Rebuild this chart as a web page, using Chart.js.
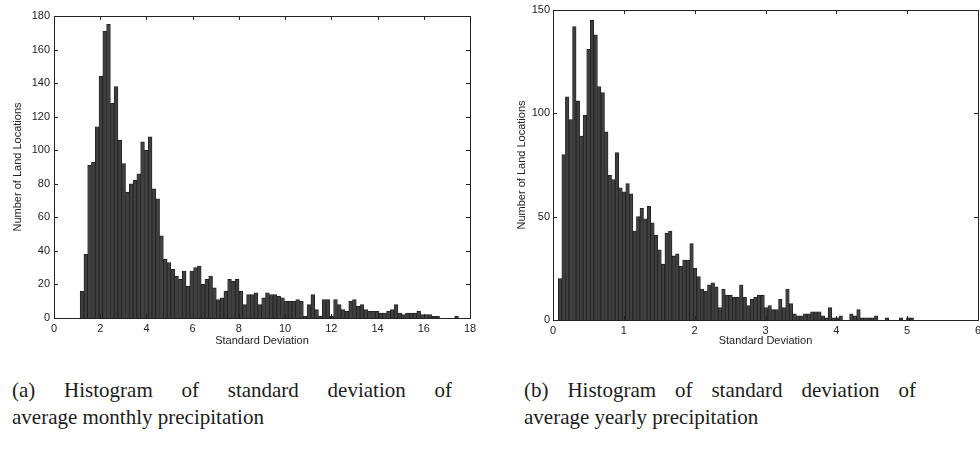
<!DOCTYPE html>
<html>
<head>
<meta charset="utf-8">
<script src="https://cdn.jsdelivr.net/npm/chart.js@4.4.1/dist/chart.umd.min.js"></script>
<style>
  html, body { margin:0; padding:0; background:#fff; width:980px; height:456px; overflow:hidden; position:relative; }
  canvas { position:absolute; top:0; }
  #c1 { left:0; }
  #c2 { left:490px; }
  .cap { position:absolute; font-family:"Liberation Serif","Times New Roman",serif; font-size:21px; line-height:21px; color:#1c1c1c; white-space:nowrap; }
</style>
</head>
<body>
<canvas id="c1" width="490" height="350"></canvas>
<canvas id="c2" width="500" height="350"></canvas>
<div class="cap" id="a1" data-w="440" style="left:12px;top:380px">(a) Histogram of standard deviation of</div>
<div class="cap" id="a2" style="left:12px;top:407px">average monthly precipitation</div>
<div class="cap" id="b1" data-w="392" style="left:524px;top:380px">(b) Histogram of standard deviation of</div>
<div class="cap" id="b2" style="left:524px;top:407px">average yearly precipitation</div>
<script>
// ---------- DATA ----------
// (a) standard deviation of average monthly precipitation: bin centres and counts
const monthlyBinCenters = [
  1.212, 1.376, 1.539, 1.703, 1.867, 2.030, 2.194, 2.358, 2.522, 2.685,
  2.849, 3.013, 3.176, 3.340, 3.504, 3.667, 3.831, 3.995, 4.159, 4.322,
  4.486, 4.650, 4.813, 4.977, 5.141, 5.304, 5.468, 5.632, 5.796, 5.959,
  6.123, 6.287, 6.450, 6.614, 6.778, 6.941, 7.105, 7.269, 7.433, 7.596,
  7.760, 7.924, 8.087, 8.251, 8.415, 8.578, 8.742, 8.906, 9.070, 9.233,
  9.397, 9.561, 9.724, 9.888, 10.052, 10.215, 10.379, 10.543, 10.707, 10.870,
  11.034, 11.198, 11.361, 11.525, 11.689, 11.852, 12.016, 12.180, 12.344, 12.507,
  12.671, 12.835, 12.998, 13.162, 13.326, 13.489, 13.653, 13.817, 13.981, 14.144,
  14.308, 14.472, 14.635, 14.799, 14.963, 15.126, 15.290, 15.454, 15.618, 15.781,
  15.945, 16.109, 16.272, 16.436, 16.600, 16.763, 16.927, 17.091, 17.255, 17.418
];
const monthlyCounts = [
  16, 38, 91, 93, 114, 144, 171, 175, 128, 138,
  106, 92, 75, 80, 82, 86, 105, 100, 108, 77,
  71, 49, 35, 33, 29, 25, 23, 28, 19, 28,
  30, 31, 20, 23, 25, 18, 11, 12, 16, 23,
  22, 23, 16, 8, 14, 14, 15, 8, 12, 15,
  14, 14, 13, 12, 10, 10, 10, 11, 10, 1,
  8, 14, 5, 1, 11, 11, 1, 11, 8, 5,
  4, 10, 11, 7, 8, 5, 4, 4, 4, 3,
  3, 4, 5, 8, 3, 2, 3, 3, 3, 4,
  2, 2, 2, 1, 1, 0, 0, 0, 0, 1
];
// (b) standard deviation of average yearly precipitation: bin centres and counts
const yearlyBinCenters = [
  0.100, 0.150, 0.200, 0.250, 0.301, 0.351, 0.401, 0.451, 0.501, 0.551,
  0.602, 0.652, 0.702, 0.752, 0.802, 0.852, 0.902, 0.953, 1.003, 1.053,
  1.103, 1.153, 1.203, 1.253, 1.304, 1.354, 1.404, 1.454, 1.504, 1.554,
  1.605, 1.655, 1.705, 1.755, 1.805, 1.855, 1.905, 1.956, 2.006, 2.056,
  2.106, 2.156, 2.206, 2.256, 2.307, 2.357, 2.407, 2.457, 2.507, 2.557,
  2.608, 2.658, 2.708, 2.758, 2.808, 2.858, 2.908, 2.959, 3.009, 3.059,
  3.109, 3.159, 3.209, 3.259, 3.310, 3.360, 3.410, 3.460, 3.510, 3.560,
  3.611, 3.661, 3.711, 3.761, 3.811, 3.861, 3.911, 3.962, 4.012, 4.062,
  4.112, 4.162, 4.212, 4.262, 4.313, 4.363, 4.413, 4.463, 4.513, 4.563,
  4.614, 4.664, 4.714, 4.764, 4.814, 4.864, 4.914, 4.965, 5.015, 5.065
];
const yearlyCounts = [
  20, 80, 108, 97, 142, 106, 89, 99, 131, 145,
  138, 113, 110, 91, 70, 68, 81, 64, 62, 66,
  61, 43, 50, 54, 49, 55, 47, 41, 34, 27,
  42, 43, 31, 32, 26, 29, 29, 37, 25, 21,
  15, 14, 17, 18, 16, 6, 15, 12, 12, 11,
  11, 17, 11, 7, 10, 11, 12, 12, 6, 7,
  5, 5, 10, 6, 15, 8, 3, 2, 2, 3,
  3, 4, 4, 4, 2, 1, 6, 1, 1, 2,
  0, 0, 3, 2, 5, 1, 1, 1, 1, 2,
  0, 0, 1, 0, 0, 0, 1, 0, 1, 1
];
// tick labels
const monthlyXTicks = [0, 2, 4, 6, 8, 10, 12, 14, 16, 18];
const monthlyYTicks = [0, 20, 40, 60, 80, 100, 120, 140, 160, 180];
const yearlyXTicks = [0, 1, 2, 3, 4, 5, 6];
const yearlyYTicks = [0, 50, 100, 150];
const xTitle = 'Standard Deviation';
const yTitle = 'Number of Land Locations';

// ---------- DRAWING ----------
const tickFont = { family: '"Liberation Sans", Arial, Helvetica, sans-serif', size: 11 };
const titleFont = { family: '"Liberation Sans", Arial, Helvetica, sans-serif', size: 11 };
const inkColor = '#222';

const framePlugin = {
  id: 'matlabFrame',
  afterDatasetsDraw(chart) {
    const { ctx, chartArea: { left, right, top, bottom }, scales: { x, y } } = chart;
    ctx.save();
    ctx.strokeStyle = inkColor;
    ctx.lineWidth = 1;
    ctx.strokeRect(left + 0.5, top + 0.5, right - left, bottom - top);
    const L = 4;
    ctx.beginPath();
    x.ticks.forEach(t => {
      const px = Math.round(x.getPixelForValue(t.value)) + 0.5;
      ctx.moveTo(px, bottom); ctx.lineTo(px, bottom - L);
      ctx.moveTo(px, top); ctx.lineTo(px, top + L);
    });
    y.ticks.forEach(t => {
      const py = Math.round(y.getPixelForValue(t.value)) + 0.5;
      ctx.moveTo(left, py); ctx.lineTo(left + L, py);
      ctx.moveTo(right, py); ctx.lineTo(right - L, py);
    });
    ctx.stroke();
    ctx.restore();
  }
};

function makeHistogram(id, centers, counts, xTicks, yTicks, cfg) {
  const points = centers.map((c, i) => ({ x: c, y: counts[i] }));
  return new Chart(document.getElementById(id), {
    type: 'bar',
    data: {
      datasets: [{
        data: points,
        backgroundColor: '#3f3f3f',
        borderColor: '#1e1e1e',
        borderWidth: 0.8,
        barPercentage: 1,
        categoryPercentage: 1,
        grouped: false
      }]
    },
    options: {
      responsive: false,
      animation: false,
      devicePixelRatio: 1,
      layout: { padding: cfg.padding },
      plugins: { legend: { display: false }, tooltip: { enabled: false } },
      scales: {
        x: {
          type: 'linear',
          min: xTicks[0],
          max: xTicks[xTicks.length - 1],
          offset: false,
          grid: { display: false, drawTicks: false, tickLength: 0 },
          border: { display: false },
          afterBuildTicks: s => { s.ticks = xTicks.map(v => ({ value: v })); },
          ticks: { font: tickFont, color: inkColor, padding: cfg.xTickPad, maxRotation: 0, autoSkip: false },
          title: { display: true, text: xTitle, font: titleFont, color: inkColor, padding: { top: 0, bottom: cfg.xTitlePad } },
          afterFit: s => { s.height = cfg.xH; }
        },
        y: {
          type: 'linear',
          min: yTicks[0],
          max: yTicks[yTicks.length - 1],
          grid: { display: false, drawTicks: false, tickLength: 0 },
          border: { display: false },
          afterBuildTicks: s => { s.ticks = yTicks.map(v => ({ value: v })); },
          ticks: { font: tickFont, color: inkColor, padding: cfg.yTickPad, autoSkip: false },
          title: { display: true, text: yTitle, font: titleFont, color: inkColor, padding: { top: cfg.yTitlePad, bottom: 0 } },
          afterFit: s => { s.width = cfg.yW; }
        }
      }
    },
    plugins: [framePlugin]
  });
}

makeHistogram('c1', monthlyBinCenters, monthlyCounts, monthlyXTicks, monthlyYTicks, {
  padding: { top: 16, right: 20, left: 0, bottom: 0 },
  xH: 32, yW: 54, xTickPad: 4, yTickPad: 4, xTitlePad: 2, yTitlePad: 11
});
makeHistogram('c2', yearlyBinCenters, yearlyCounts, yearlyXTicks, yearlyYTicks, {
  padding: { top: 10, right: 12, left: 0, bottom: 0 },
  xH: 30, yW: 63, xTickPad: 4, yTickPad: 3, xTitlePad: 2, yTitlePad: 25
});

// justify first caption lines like the typeset original
['a1', 'b1'].forEach(id => {
  const el = document.getElementById(id);
  const target = +el.dataset.w;
  const w = el.getBoundingClientRect().width;
  const n = (el.textContent.match(/ /g) || []).length;
  if (n > 0 && target > w) el.style.wordSpacing = ((target - w) / n) + 'px';
});
</script>
</body>
</html>
